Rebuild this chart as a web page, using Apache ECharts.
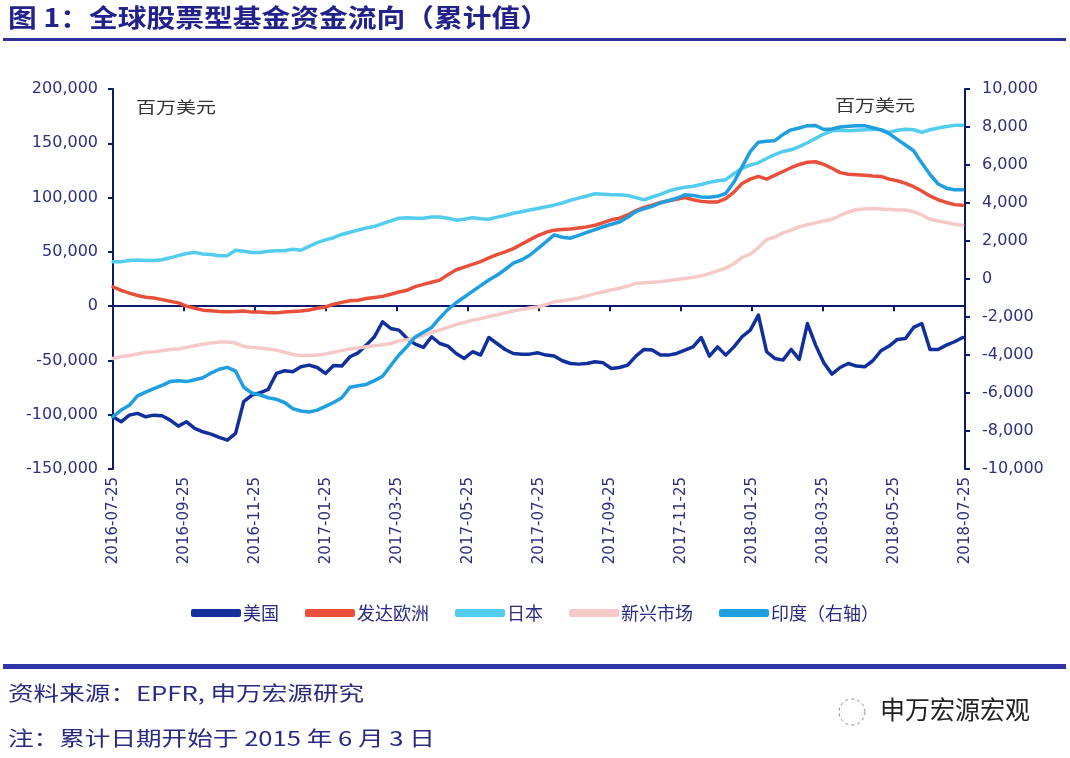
<!DOCTYPE html>
<html>
<head>
<meta charset="utf-8">
<script src="https://cdn.jsdelivr.net/npm/echarts@6/dist/echarts.min.js"></script>
<style>
html,body{margin:0;padding:0;background:#fff;}
#c{width:1070px;height:758px;}
</style>
</head>
<body>
<div id="c"></div>
<script>
// ---- data (百万美元, weekly, cumulative) ----
const tickLabels = ['2016-07-25','2016-09-25','2016-11-25','2017-01-25','2017-03-25','2017-05-25','2017-07-25','2017-09-25','2017-11-25','2018-01-25','2018-03-25','2018-05-25','2018-07-25'];
const seriesNames = ['美国','发达欧洲','日本','新兴市场','印度（右轴）'];
const daysPerStep = 7;      // weekly observations from 2016-07-25
const spanDays = 730;       // 2016-07-25 .. 2018-07-25

const us = [-101900,-106500,-100400,-98800,-101900,-100400,-101000,-105000,-110500,-106500,
-112600,-115700,-117900,-120900,-123400,-117200,-88000,-82000,-79800,-76700,
-62000,-59500,-60500,-55900,-54300,-56500,-62000,-54600,-55200,-46600,
-43000,-35900,-28200,-14400,-20600,-22100,-29800,-35000,-38000,-28200,
-34400,-36800,-43600,-48200,-42000,-45000,-28900,-34400,-39900,-43600,
-44200,-44200,-43000,-45100,-46000,-50300,-52800,-53400,-52800,-51300,
-52200,-57400,-56500,-54300,-46000,-39900,-40500,-45100,-45100,-43600,
-40500,-37500,-28900,-46000,-37500,-45100,-37500,-28200,-22100,-8300,
-42000,-48200,-49700,-39900,-49100,-16000,-35900,-52200,-62600,-56500,
-52800,-55200,-55900,-50300,-41100,-36800,-30700,-29800,-19600,-16000,
-39900,-39900,-35900,-32800,-28900];

const europe = [17800,14500,12000,9800,8200,7500,6000,4500,3000,0,
-2000,-3700,-4200,-5000,-5200,-5000,-4500,-5500,-5500,-6000,
-6200,-5500,-5000,-4500,-3500,-2000,-800,1800,3500,5000,
5500,7000,8000,9000,11000,13000,14700,18000,20000,22000,
24000,29000,33500,36000,38500,41000,44500,47500,50000,53000,
57000,61000,65000,68000,70000,70500,71000,72000,73000,74500,
77000,79500,81000,84000,88000,91000,93000,95500,97000,98500,
100000,98000,96500,96000,96000,99000,105000,113000,117000,119500,
117000,120500,124000,127500,130500,132500,133000,130500,127000,123000,
121500,121000,120500,119800,119500,117000,115500,113000,110000,106000,
101500,98000,95500,93500,93000];

const japan = [40800,41000,42000,42400,42000,42000,42800,44500,46500,48500,
49500,48000,47500,46500,46500,51500,50500,49500,49500,50500,
51000,51000,52500,51500,55000,58500,61000,63000,66000,68000,
70000,72000,73500,76000,78500,81000,81500,81000,81000,82200,
82200,81000,79200,80000,81500,80500,80000,82000,83500,85500,
87000,88500,90000,91500,93000,95000,97500,99500,101500,103500,
103000,102500,102500,102000,100000,98000,100500,103000,106000,108000,
109500,110500,112000,114000,115500,116500,122000,127000,130000,132000,
136000,139500,142500,144000,147000,150500,154500,158500,161500,162000,
161500,162000,162500,163000,162500,160000,162000,163000,162500,160000,
162500,164000,165500,166500,166500];

const emerging = [-48200,-46500,-45500,-44000,-42500,-42000,-41000,-40000,-39500,-38000,
-36500,-35000,-34000,-33000,-33000,-34000,-37000,-38000,-38500,-39500,
-40500,-42500,-44500,-45500,-45500,-45000,-44000,-42500,-41000,-39500,
-38500,-37500,-36500,-35500,-34500,-32000,-31000,-29000,-27000,-24000,
-22000,-19500,-17000,-15000,-13000,-11500,-9500,-8000,-6200,-4500,
-3000,-1800,-800,1500,4000,5000,6200,7500,9500,11500,
13000,15000,16500,18500,20900,21500,22000,22500,23500,24500,
25500,26500,28000,30000,32500,35000,39000,45000,48000,54000,
61500,63500,67500,70000,73000,75000,76700,78500,80000,83500,
86500,89000,89500,90000,89500,89000,88500,88500,87000,84000,
80000,78500,77000,75500,74500];

const india = [-7250,-6900,-6650,-6150,-5950,-5770,-5600,-5400,-5350,-5400,
-5300,-5200,-4950,-4750,-4650,-4850,-5700,-6000,-6100,-6250,
-6330,-6500,-6820,-6950,-7000,-6900,-6700,-6500,-6250,-5700,
-5620,-5550,-5350,-5120,-4550,-4000,-3550,-3050,-2800,-2550,
-2050,-1600,-1250,-950,-650,-350,-50,200,500,830,
1000,1250,1600,1950,2320,2200,2150,2300,2450,2600,
2750,2880,3000,3250,3550,3700,3820,4000,4120,4250,
4430,4400,4320,4300,4350,4500,5100,5900,6700,7200,
7250,7280,7600,7850,7950,8070,8080,7870,7900,8000,
8040,8060,8070,7960,7850,7650,7350,7050,6750,6100,
5500,5000,4780,4700,4700];

// ---- build ----
const pair = arr => arr.map((v, i) => [i * daysPerStep, v]);

const NAVY = '#0d1a6b';
const LABEL = '#2e2f7e';
const TXT = '#2a2a80';
const colors = ['#12309c', '#e9503c', '#52cdf0', '#f6c9c9', '#1f9ee0'];
const AXFONT = '"DejaVu Sans", sans-serif';

const chart = echarts.init(document.getElementById('c'), null, {renderer: 'canvas'});
const baseLine = (name, data, color, yIdx) => ({
  name, type: 'line', data: pair(data), xAxisIndex: 1, yAxisIndex: yIdx, showSymbol: false, symbol: 'none',
  lineStyle: {color, width: 3.5, cap: 'round', join: 'round'}, itemStyle: {color},
  emphasis: {disabled: true}, animation: false
});

chart.setOption({
  animation: false,
  backgroundColor: '#ffffff',
  textStyle: {fontFamily: AXFONT},
  grid: {left: 113, right: 105, top: 89, bottom: 289, containLabel: false},
  legend: {
    data: seriesNames, left: 'center', top: 599, itemWidth: 50, itemHeight: 8, itemGap: 26,
    icon: 'roundRect',
    textStyle: {color: TXT, fontSize: 18, fontFamily: '"Noto Sans CJK SC"', padding: [0, 0, 0, -3]}
  },
  xAxis: [
    {type: 'category', data: tickLabels, boundaryGap: false, position: 'bottom',
     axisLine: {show: true, onZero: true, onZeroAxisIndex: 0, lineStyle: {color: NAVY, width: 2}},
     axisTick: {show: true, length: 5, alignWithLabel: true, lineStyle: {color: NAVY, width: 2}},
     axisLabel: {rotate: 90, margin: 8, color: LABEL, fontSize: 15, fontFamily: AXFONT, interval: 0},
     splitLine: {show: false}},
    {type: 'value', min: 0, max: spanDays, show: false, position: 'top',
     axisLine: {onZero: false}, splitLine: {show: false}}
  ],
  yAxis: [
    {type: 'value', min: -150000, max: 200000, interval: 50000, position: 'left',
     axisLine: {show: true, lineStyle: {color: NAVY, width: 2}},
     axisTick: {show: true, length: 5, lineStyle: {color: NAVY, width: 2}},
     axisLabel: {color: LABEL, fontSize: 16, fontFamily: AXFONT, margin: 15},
     splitLine: {show: false}},
    {type: 'value', min: -10000, max: 10000, interval: 2000, position: 'right',
     axisLine: {show: true, lineStyle: {color: NAVY, width: 2}},
     axisTick: {show: true, length: 5, lineStyle: {color: NAVY, width: 2}},
     axisLabel: {color: LABEL, fontSize: 16, fontFamily: AXFONT, margin: 17},
     splitLine: {show: false}}
  ],
  series: [
    baseLine(seriesNames[0], us, colors[0], 0),
    baseLine(seriesNames[1], europe, colors[1], 0),
    baseLine(seriesNames[2], japan, colors[2], 0),
    baseLine(seriesNames[3], emerging, colors[3], 0),
    baseLine(seriesNames[4], india, colors[4], 1)
  ],
  graphic: [
    {type: 'text', x: 8, y: 5, scaleX: 1.15, style: {text: '图 1：全球股票型基金资金流向（累计值）', fill: '#22228a', font: 'bold 25px "Noto Sans CJK SC"', verticalAlign: 'top'}},
    {type: 'rect', shape: {x: 3, y: 38, width: 1063, height: 3}, style: {fill: '#2d2f9c'}},
    {type: 'text', x: 136, y: 99, scaleX: 1.25, style: {text: '百万美元', fill: '#333', font: '16px "Noto Sans CJK SC"', verticalAlign: 'top'}},
    {type: 'text', x: 835, y: 97, scaleX: 1.25, style: {text: '百万美元', fill: '#333', font: '16px "Noto Sans CJK SC"', verticalAlign: 'top'}},
    {type: 'rect', shape: {x: 3, y: 664, width: 1063, height: 5}, style: {fill: '#3235a8'}},
    {type: 'text', x: 8, y: 683, scaleX: 1.28, style: {text: '资料来源：EPFR, 申万宏源研究', fill: TXT, font: '20px "Noto Sans CJK SC"', verticalAlign: 'top'}},
    {type: 'text', x: 8, y: 728, scaleX: 1.28, style: {text: '注：累计日期开始于 2015 年 6 月 3 日', fill: TXT, font: '20px "Noto Sans CJK SC"', verticalAlign: 'top'}},
    {type: 'circle', shape: {cx: 852, cy: 712, r: 13}, style: {fill: 'none', stroke: '#888', lineWidth: 1, lineDash: [3, 3]}},
    {type: 'text', x: 880, y: 697, style: {text: '申万宏源宏观', fill: '#222', font: '25px "Noto Sans CJK SC"', verticalAlign: 'top'}}
  ]
});
</script>
</body>
</html>
